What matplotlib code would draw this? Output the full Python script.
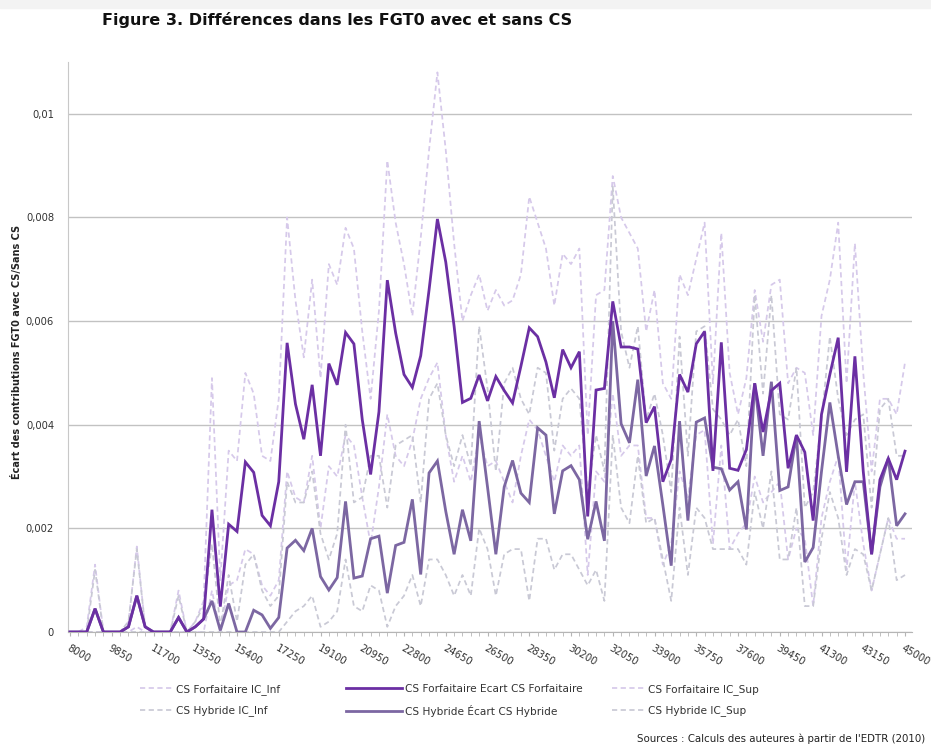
import matplotlib
matplotlib.use("Agg")
import matplotlib.pyplot as plt
from matplotlib.patches import Rectangle
from matplotlib.ticker import FuncFormatter, MultipleLocator
import numpy as np

# ---------------- data ----------------
revenus = np.arange(8000, 45001, 370)  # 101 income categories

tick_values = [8000, 9850, 11700, 13550, 15400, 17250, 19100, 20950, 22800, 24650,
               26500, 28350, 30200, 32050, 33900, 35750, 37600, 39450, 41300, 43150, 45000]
tick_labels = [str(v) for v in tick_values]

forf_ecart = [0, 0, 0, 0.00045, 0, 0, 0, 0.0001, 0.0007, 0.0001,
              0, 0, 0, 0.00028, 0, 0.0001, 0.00025, 0.00236, 0.00049, 0.00208,
              0.00194, 0.00328, 0.00308, 0.00225, 0.00205, 0.0029, 0.00558, 0.0044, 0.00372, 0.00477,
              0.0034, 0.00518, 0.00477, 0.00578, 0.00556, 0.0041, 0.00304, 0.00425, 0.00679, 0.00577,
              0.00497, 0.00472, 0.00533, 0.0066, 0.00797, 0.00714, 0.0059, 0.00443, 0.00451, 0.00496,
              0.00446, 0.00493, 0.00466, 0.00442, 0.00513, 0.00587, 0.0057, 0.00521, 0.00452, 0.00545,
              0.0051, 0.00541, 0.00223, 0.00467, 0.0047, 0.00638, 0.0055, 0.0055, 0.00546, 0.00404,
              0.00435, 0.0029, 0.00333, 0.00497, 0.00463, 0.00556, 0.0058, 0.00311, 0.00559, 0.00316,
              0.00312, 0.00352, 0.0048, 0.00386, 0.00466, 0.0048, 0.00316, 0.0038, 0.00347, 0.00215,
              0.0042, 0.00497, 0.00568, 0.00309, 0.00532, 0.0031, 0.0015, 0.00294, 0.00335, 0.00294,
              0.00349]

hyb_ecart = [0, 0, 0, 0.00045, 0, 0, 0, 0.0001, 0.0007, 0.0001,
             0, 0, 0, 0.00028, 0, 0.0001, 0.00025, 0.0006, 0.00003, 0.00055,
             0, 0, 0.00042, 0.00033, 0.00007, 0.00028, 0.00162, 0.00177, 0.00157, 0.002,
             0.00107, 0.00081, 0.00105, 0.00252, 0.00104, 0.00108, 0.0018, 0.00185, 0.00075, 0.00167,
             0.00173, 0.00256, 0.00111, 0.00307, 0.0033, 0.00233, 0.0015, 0.00236, 0.00176, 0.00407,
             0.0028, 0.0015, 0.0028, 0.00331, 0.00268, 0.0025, 0.00394, 0.0038, 0.00228, 0.00311,
             0.00321, 0.00294, 0.00179, 0.00252, 0.00176, 0.006, 0.00402, 0.00365, 0.00487, 0.00301,
             0.00359, 0.00245, 0.00128, 0.00407, 0.00215, 0.00405, 0.00413, 0.00318, 0.00315, 0.00274,
             0.0029, 0.00198, 0.0048, 0.0034, 0.00483, 0.00273, 0.0028, 0.0038, 0.00135, 0.00163,
             0.0031, 0.00443, 0.0034, 0.00246, 0.0029, 0.0029, 0.0015, 0.0028, 0.00335, 0.00205,
             0.00228]

forf_ic_sup = [0, 0, 0.0001, 0.0013, 0, 0, 0, 0.0002, 0.00165, 0.0001,
               0, 0, 0, 0.0008, 0, 0.0002, 0.0006, 0.0049, 0.001, 0.0035,
               0.0033, 0.005, 0.0046, 0.0034, 0.0033, 0.0045, 0.008, 0.0064, 0.0053, 0.0068,
               0.0049, 0.0071, 0.0067, 0.0078, 0.0074, 0.0058, 0.0045, 0.0062, 0.0091, 0.0079,
               0.0071, 0.0061, 0.0076, 0.0093, 0.0108, 0.0093, 0.0075, 0.006, 0.0065, 0.0069,
               0.0062, 0.0066, 0.0063, 0.0064, 0.0069, 0.0084, 0.0079, 0.0074, 0.0063, 0.0073,
               0.0071, 0.0074, 0.0038, 0.0065, 0.0066, 0.0088, 0.008, 0.0077, 0.0074, 0.0058,
               0.0066, 0.0048, 0.0045, 0.0069, 0.0065, 0.0072, 0.0079, 0.0048, 0.0077, 0.005,
               0.0042, 0.0049, 0.0066, 0.0056, 0.0067, 0.0068, 0.0048, 0.0051, 0.005, 0.0038,
               0.0061, 0.0068, 0.0079, 0.0048, 0.0075, 0.005, 0.0031, 0.0045, 0.0045, 0.0042,
               0.0052]

forf_ic_inf = [0, 0, 0, 0, 0, 0, 0, 0, 0.0001, 0,
               0, 0, 0, 0, 0, 0, 0, 0.0008, 0, 0.0009,
               0.001, 0.0016, 0.0015, 0.0009, 0.0007, 0.001, 0.0031, 0.0026, 0.0025, 0.0034,
               0.002, 0.0032, 0.003, 0.0038, 0.0036, 0.0026, 0.0017, 0.0028, 0.0042, 0.0034,
               0.0032, 0.0037, 0.0045, 0.0049, 0.0052, 0.0038, 0.0029, 0.0034, 0.0029, 0.0038,
               0.0032, 0.0033, 0.0029, 0.0025, 0.0034, 0.0041, 0.0039, 0.0034, 0.0029, 0.0036,
               0.0034, 0.0036, 0.0011, 0.0031, 0.0029, 0.0046, 0.0034, 0.0036, 0.0036, 0.0022,
               0.0022, 0.0013, 0.0017, 0.0031, 0.0026, 0.0038, 0.0039, 0.0017, 0.0036, 0.0016,
               0.0019, 0.0021, 0.003, 0.0025, 0.0027, 0.0029, 0.0014, 0.002, 0.0018, 0.0005,
               0.0022, 0.0029, 0.0034, 0.0012, 0.0029, 0.0017, 0.0008, 0.0015, 0.0022, 0.0018,
               0.0018]

hyb_ic_sup = [0, 0, 0, 0.0012, 0, 0, 0, 0.0002, 0.0016, 0.0001,
              0, 0, 0, 0.0007, 0, 0.0002, 0.0005, 0.0017, 0.0001, 0.0011,
              0.0002, 0.0013, 0.0015, 0.0008, 0.0005, 0.0007, 0.0029, 0.0025, 0.0025, 0.0031,
              0.0019, 0.0014, 0.0019, 0.004, 0.0025, 0.0026, 0.0034, 0.0034, 0.0024, 0.0036,
              0.0037, 0.0038, 0.0025, 0.0045, 0.0048, 0.0038, 0.0032, 0.0038, 0.0032, 0.0059,
              0.0047, 0.0031, 0.0048, 0.0051, 0.0045, 0.0042, 0.0051, 0.005, 0.0035, 0.0045,
              0.0047, 0.0045, 0.0027, 0.0038, 0.0031, 0.0086, 0.0058, 0.0051, 0.0059, 0.0041,
              0.0046, 0.0038, 0.0027, 0.0057, 0.0034, 0.0058, 0.0059, 0.0043, 0.0041, 0.0038,
              0.0041, 0.0032, 0.0065, 0.0046, 0.0065, 0.0042, 0.0041, 0.0051, 0.0024, 0.0027,
              0.0041, 0.0057, 0.0045, 0.0038, 0.0041, 0.0042, 0.0024, 0.0043, 0.0045, 0.0034,
              0.0034]

hyb_ic_inf = [0, 0, 0, 0, 0, 0, 0, 0, 0, 0,
              0, 0, 0, 0, 0, 0, 0, 0, 0, 0,
              0, 0, 0, 0, 0, 0, 0.0002, 0.0004, 0.0005, 0.0007,
              0.0001, 0.0002, 0.0004, 0.0014, 0.0005, 0.0004, 0.0009, 0.0008, 0.0001, 0.0005,
              0.0007, 0.0011, 0.0005, 0.0014, 0.0014, 0.0011, 0.0007, 0.0011, 0.0007, 0.002,
              0.0016, 0.0007, 0.0015, 0.0016, 0.0016, 0.0006, 0.0018, 0.0018, 0.0012, 0.0015,
              0.0015, 0.0012, 0.0009, 0.0012, 0.0006, 0.0038, 0.0024, 0.0021, 0.0034, 0.0021,
              0.0022, 0.0014, 0.0006, 0.0024, 0.0011, 0.0024, 0.0022, 0.0016, 0.0016, 0.0016,
              0.0016, 0.0013, 0.0027, 0.002, 0.0031, 0.0014, 0.0014, 0.0024, 0.0005, 0.0005,
              0.0018, 0.0027, 0.0022, 0.0011, 0.0016, 0.0015, 0.0008, 0.0015, 0.0022, 0.001,
              0.0011]

labels = {
    "forf_inf": "CS Forfaitaire IC_Inf",
    "hyb_inf": "CS Hybride IC_Inf",
    "forf": "CS Forfaitaire Ecart CS Forfaitaire",
    "hyb": "CS Hybride Écart CS Hybride",
    "forf_sup": "CS Forfaitaire IC_Sup",
    "hyb_sup": "CS Hybride IC_Sup",
}

# ---------------- style ----------------
NARROW = ["Liberation Sans Narrow", "DejaVu Sans"]
MAIN = ["DejaVu Sans"]
c_forf = "#6b2fa3"
c_hyb = "#7c67a2"
c_forf_ic = "#d6c9ea"
c_hyb_ic = "#c9c9d5"

fig = plt.figure(figsize=(9.31, 7.47), dpi=100)
fig.patches.append(Rectangle((0, 1 - 8 / 747), 1, 8 / 747, transform=fig.transFigure,
                             color="#f3f3f3", zorder=0))
ax = fig.add_axes([68 / 931, 1 - 632 / 747, (912 - 68) / 931, (632 - 62) / 747])

dash = (3.0, 2.0)
l_fi, = ax.plot(revenus, forf_ic_inf, color=c_forf_ic, lw=1.25, dashes=dash, zorder=2)
l_hi, = ax.plot(revenus, hyb_ic_inf, color=c_hyb_ic, lw=1.25, dashes=dash, zorder=2)
l_fs, = ax.plot(revenus, forf_ic_sup, color=c_forf_ic, lw=1.25, dashes=dash, zorder=2)
l_hs, = ax.plot(revenus, hyb_ic_sup, color=c_hyb_ic, lw=1.25, dashes=dash, zorder=2)
l_h, = ax.plot(revenus, hyb_ecart, color=c_hyb, lw=2.0, zorder=3, solid_joinstyle="miter")
l_f, = ax.plot(revenus, forf_ecart, color=c_forf, lw=2.0, zorder=4, solid_joinstyle="miter")

ax.set_xlim(7911, 45310)
ax.set_ylim(0, 0.011)

ax.yaxis.set_major_locator(MultipleLocator(0.002))
ax.yaxis.set_major_formatter(FuncFormatter(
    lambda v, p: "0" if abs(v) < 1e-12 else ("%g" % round(v, 4)).replace(".", ",")))
ax.grid(axis="y", color="#c2c2c2", lw=1.0, zorder=0)
ax.set_axisbelow(True)

ax.set_xticks(tick_values)
ax.set_xticklabels(tick_labels, rotation=-30, ha="left", va="top",
                   rotation_mode="anchor", fontsize=7.2, family=MAIN, color="#333333")
ax.set_xticks(revenus, minor=True)
ax.tick_params(axis="x", which="both", length=3, color="#b5b5b5", pad=5)
ax.tick_params(axis="y", length=0, pad=10, labelsize=7.2, labelcolor="#333333")

for s in ["top", "right"]:
    ax.spines[s].set_visible(False)
ax.spines["left"].set_color("#c8c8c8")
ax.spines["bottom"].set_color("#b5b5b5")

fig.text(17 / 931, 1 - 352 / 747, "Écart des contributions FGT0 avec CS/Sans CS",
         rotation=90, ha="center", va="center", fontsize=7.0, fontweight="bold",
         family=MAIN, color="#222222")

fig.text(102 / 931, 1 - 20 / 747, "Figure 3. Différences dans les FGT0 avec et sans CS",
         ha="left", va="center", fontsize=11.5, fontweight="bold", family=MAIN, color="#111111")

# legends (three columns, each with its own handle length)
leg_kw = dict(frameon=False, loc="upper left", prop={"family": NARROW, "size": 7.6},
              labelspacing=1.0, handletextpad=0.3, borderaxespad=0, borderpad=0)
lg1 = fig.legend([l_fi, l_hi], [labels["forf_inf"], labels["hyb_inf"]],
                 bbox_to_anchor=(140 / 931, 1 - 684 / 747), handlelength=3.1, **leg_kw)
lg2 = fig.legend([l_f, l_h], [labels["forf"], labels["hyb"]],
                 bbox_to_anchor=(346 / 931, 1 - 684 / 747), handlelength=5.3, **leg_kw)
lg3 = fig.legend([l_fs, l_hs], [labels["forf_sup"], labels["hyb_sup"]],
                 bbox_to_anchor=(612 / 931, 1 - 684 / 747), handlelength=3.1, **leg_kw)
for lg in (lg1, lg2, lg3):
    for t in lg.get_texts():
        t.set_color("#333333")

fig.text(925 / 931, 1 - 739 / 747, "Sources : Calculs des auteures à partir de l'EDTR (2010)",
         ha="right", va="center", fontsize=7.4, family=NARROW, color="#222222")

fig.savefig("out.png", dpi=100)
